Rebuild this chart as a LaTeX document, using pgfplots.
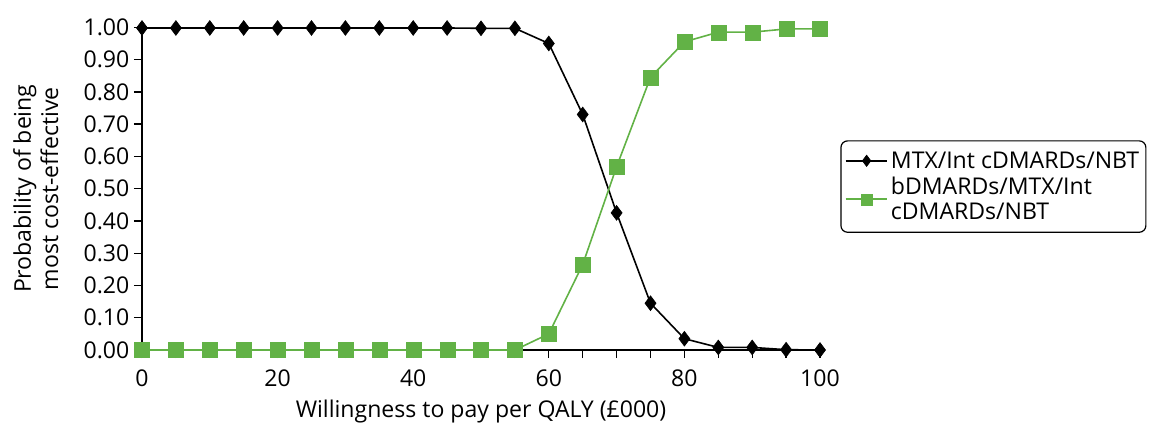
\documentclass[border=0pt]{standalone}
\usepackage{pgfplots}
\pgfplotsset{compat=1.18}
\usepackage{fontspec}
\setmainfont{Open Sans}
\definecolor{mygreen}{HTML}{62B246}
\newcommand{\ff}{\fontsize{17.3pt}{20.5pt}\selectfont}
\begin{document}
\begin{tikzpicture}[font=\ff]
\useasboundingbox (-106.5pt,-54pt) rectangle (756.75pt,262.5pt);
\begin{axis}[
  scale only axis,
  width=508.5pt, height=242pt,
  xmin=0, xmax=100, ymin=0, ymax=1,
  axis lines=left,
  axis line style={-, line width=1pt},
  clip=false,
  tick align=outside,
  major tick length=6pt,
  minor tick length=6pt,
  tick style={black, line width=1pt},
  xtick={0,20,...,100},
  minor xtick={5,10,15,25,30,35,45,50,55,65,70,75,85,90,95},
  ytick={0,0.1,...,1.0},
  yticklabel style={/pgf/number format/.cd, fixed, fixed zerofill, precision=2},
  /pgf/number format/assume math mode=true,
  tick label style={font=\ff},
  xticklabel style={yshift=-5pt},
  label style={font=\ff},
  xlabel={Willingness to pay per QALY (£000)},
  ylabel={Probability of being\\most cost-effective},
  ylabel style={align=center, yshift=12pt},
  xlabel style={yshift=-3pt},
  legend style={at={(1.03,0.65)}, anchor=north west, draw=black, line width=0.9pt, rounded corners=5pt, cells={align=left, anchor=west}, inner xsep=3pt, inner ysep=6pt, row sep=1pt, font=\fontsize{17.3pt}{19pt}\selectfont},
  legend cell align=left,
  legend image code/.code={\draw[mark repeat=2,mark phase=2] plot coordinates {(0cm,0cm) (0.55cm,0cm) (1.1cm,0cm)};},
  legend image post style={mark size=4.2pt},
]
\addplot[black, line width=1.2pt, mark=diamond*, mark size=5.5pt, mark options={solid, line width=0.5pt}] coordinates {
(0,0.998)(5,0.998)(10,0.998)(15,0.998)(20,0.998)(25,0.998)(30,0.998)(35,0.998)(40,0.998)(45,0.998)(50,0.997)(55,0.997)
(60,0.95)(65,0.73)(70,0.425)(75,0.145)(80,0.035)(85,0.008)(90,0.008)(95,0.001)(100,0.0)};
\addlegendentry{MTX/Int cDMARDs/NBT}
\addplot[mygreen, line width=1.2pt, mark=square*, mark size=5.6pt, mark options={solid, line width=0.1pt}] coordinates {
(0,0)(5,0)(10,0)(15,0)(20,0)(25,0)(30,0)(35,0)(40,0)(45,0)(50,0)(55,0)
(60,0.05)(65,0.265)(70,0.568)(75,0.845)(80,0.955)(85,0.985)(90,0.985)(95,0.995)(100,0.995)};
\addlegendentry{bDMARDs/MTX/Int\\cDMARDs/NBT}
\end{axis}
\end{tikzpicture}
\end{document}
